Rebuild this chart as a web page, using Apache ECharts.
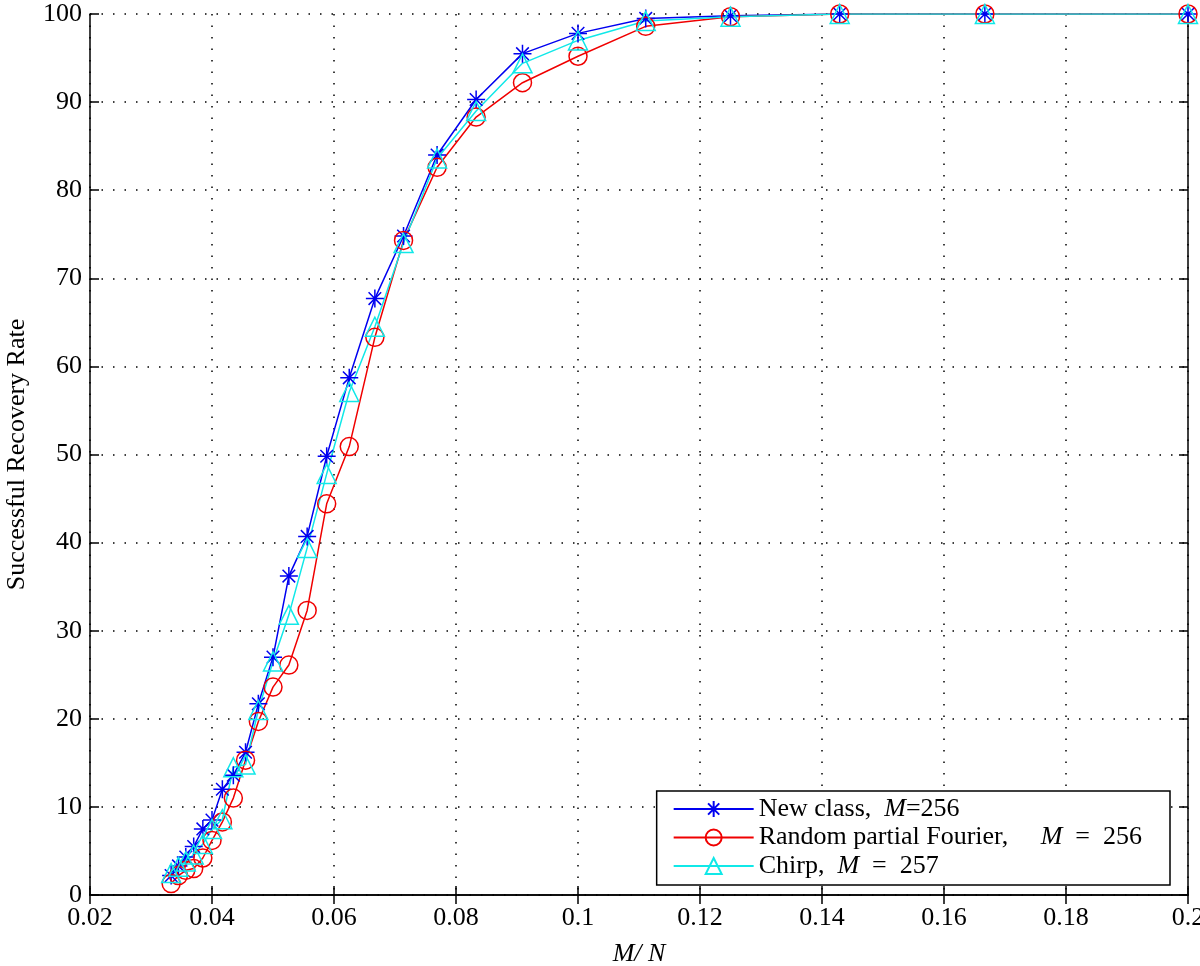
<!DOCTYPE html>
<html>
<head>
<meta charset="utf-8">
<title>Successful Recovery Rate</title>
<script src="https://cdn.jsdelivr.net/npm/echarts@6/dist/echarts.min.js"></script>
<style>
  html, body { margin: 0; padding: 0; background: #fff; }
  #chart { width: 1200px; height: 966px; }
</style>
</head>
<body>
<div id="chart"></div>
<script>
// M/N ratios (x axis)
const ratios = [0.0333, 0.0345, 0.0357, 0.0370, 0.0385, 0.0400, 0.0417, 0.0435, 0.0455,
  0.0476, 0.0500, 0.0526, 0.0556, 0.0588, 0.0625, 0.0667, 0.0714, 0.0769, 0.0833,
  0.0909, 0.1000, 0.1111, 0.1250, 0.1429, 0.1667, 0.2000]

// recovery rate (%) per method
const newClass = [2.2, 3.3, 4.3, 5.5, 7.5, 8.5, 12.0, 13.6, 16.2, 21.7, 27.0, 36.2, 40.7,
  49.8, 58.7, 67.7, 74.8, 84.0, 90.3, 95.5, 97.8, 99.5, 99.8, 100, 100, 100]
const randomFourier = [1.3, 2.2, 2.8, 3.0, 4.2, 6.2, 8.3, 11.0, 15.3, 19.7, 23.6, 26.1,
  32.3, 44.4, 50.9, 63.3, 74.3, 82.6, 88.3, 92.2, 95.2, 98.6, 99.7, 100, 100, 100]
const chirp = [2.5, 3.2, 3.8, 4.6, 5.8, 7.5, 8.6, 14.5, 14.8, 21.0, 26.5, 31.8, 39.4,
  47.8, 57.1, 64.5, 74.0, 83.6, 89.0, 94.4, 97.0, 99.2, 99.7, 100, 100, 100]

const seriesNames = ['New class, M=256', 'Random partial Fourier, M = 256', 'Chirp, M = 257']
const legendLabels = [
  '{n|New class,  }{i|M}{n|=256}',
  '{n|Random partial Fourier,     }{i|M}{n|  =  256}',
  '{n|Chirp,  }{i|M}{n|  =  257}'
]

const serif = '"Liberation Serif", "Times New Roman", serif'
const fontSize = 26
// matlab style '*' marker (plus + x)
const asterisk = 'path://M10,0L10,20M0,10L20,10M3,3L17,17M3,17L17,3'

const pair = (ys) => ratios.map((x, i) => [x, ys[i]])

const chart = echarts.init(document.getElementById('chart'))

const axisBase = {
  axisLine: { lineStyle: { color: '#000', width: 1.5 } },
  axisTick: { inside: true, length: 9, lineStyle: { color: '#000', width: 1.5 } }
}
const dotted = { show: true, lineStyle: { color: '#000', type: [1.5, 10], width: 1.5 } }

chart.setOption({
  animation: false,
  backgroundColor: '#fff',
  grid: { left: 90, right: 12, top: 14, bottom: 71, outerBoundsMode: 'none' },
  legend: {
    orient: 'vertical',
    right: 30,
    top: 791,
    padding: [5, 28, 6, 16],
    itemGap: 2.5,
    itemWidth: 80,
    itemHeight: 20,
    borderColor: '#000',
    borderWidth: 1.5,
    backgroundColor: '#fff',
    data: seriesNames,
    formatter: (name) => legendLabels[seriesNames.indexOf(name)],
    textStyle: {
      color: '#000',
      padding: [0, 0, 0, 0],
      rich: {
        n: { fontFamily: serif, fontSize: fontSize, lineHeight: 26, color: '#000' },
        i: { fontFamily: serif, fontSize: fontSize, lineHeight: 26, fontStyle: 'italic', color: '#000' }
      }
    }
  },
  xAxis: [
    {
      ...axisBase,
      type: 'value',
      min: 0.02,
      max: 0.2,
      interval: 0.02,
      name: 'M/ N',
      nameLocation: 'middle',
      nameGap: 46,
      nameTextStyle: { fontFamily: serif, fontSize: fontSize, fontStyle: 'italic', color: '#000' },
      axisLabel: {
        fontFamily: serif,
        fontSize: fontSize,
        color: '#000',
        margin: 10,
        formatter: (v) => String(+v.toFixed(2))
      },
      splitLine: dotted
    },
    {
      ...axisBase,
      type: 'value',
      position: 'top',
      min: 0.02,
      max: 0.2,
      interval: 0.02,
      axisLabel: { show: false },
      splitLine: { show: false }
    }
  ],
  yAxis: [
    {
      ...axisBase,
      type: 'value',
      min: 0,
      max: 100,
      interval: 10,
      name: 'Successful Recovery Rate',
      nameLocation: 'middle',
      nameGap: 60,
      nameTextStyle: { fontFamily: serif, fontSize: fontSize, color: '#000' },
      axisLabel: { fontFamily: serif, fontSize: fontSize, color: '#000', margin: 8 },
      splitLine: dotted
    },
    {
      ...axisBase,
      type: 'value',
      position: 'right',
      min: 0,
      max: 100,
      interval: 10,
      axisLabel: { show: false },
      splitLine: { show: false }
    }
  ],
  series: [
    {
      name: seriesNames[0],
      type: 'line',
      data: pair(newClass),
      symbol: asterisk,
      symbolSize: 18,
      lineStyle: { color: '#0000f0', width: 1.5 },
      itemStyle: { color: 'rgba(0,0,0,0)', borderColor: '#0000f0', borderWidth: 1.5 }
    },
    {
      name: seriesNames[1],
      type: 'line',
      data: pair(randomFourier),
      symbol: 'circle',
      symbolSize: 18,
      lineStyle: { color: '#f00000', width: 1.5 },
      itemStyle: { color: 'rgba(0,0,0,0)', borderColor: '#f00000', borderWidth: 1.5 }
    },
    {
      name: seriesNames[2],
      type: 'line',
      data: pair(chirp),
      symbol: 'triangle',
      symbolSize: 19,
      lineStyle: { color: '#10e8e8', width: 1.5 },
      itemStyle: { color: 'rgba(0,0,0,0)', borderColor: '#10e8e8', borderWidth: 1.5 }
    }
  ]
})
</script>
</body>
</html>
